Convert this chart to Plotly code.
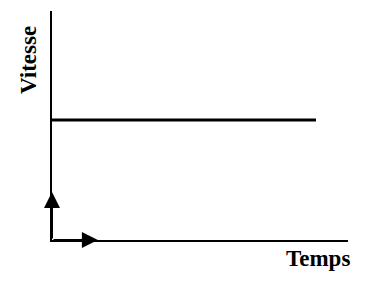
import plotly.graph_objects as go

# Data
temps = [0.0, 8.92]
vitesse = [5.24, 5.24]
arrow_x_tip = [1.55, 0.0]
arrow_y_tip = [0.0, 2.1]
x_label = "Temps"
y_label = "Vitesse"

W, H = 378, 285
ml, mr, mt, mb = 52, 30, 11, 45

fig = go.Figure()
fig.add_trace(go.Scatter(x=temps, y=vitesse, mode="lines",
                         line=dict(color="black", width=3), showlegend=False,
                         hoverinfo="skip"))

for xt, yt in zip(arrow_x_tip, arrow_y_tip):
    fig.add_annotation(x=xt, y=yt, ax=0, ay=0, xref="x", yref="y",
                       axref="x", ayref="y", showarrow=True, arrowhead=2,
                       arrowsize=1.6, arrowwidth=2, arrowcolor="black", text="")

font = dict(family="Liberation Serif", size=23, color="black")
fig.add_annotation(text="<b>" + y_label + "</b>", xref="paper", yref="paper",
                   x=(29 - ml) / (W - ml - mr), y=1 - (60 - mt) / (H - mt - mb),
                   textangle=-90, showarrow=False, font=font,
                   xanchor="center", yanchor="middle")
fig.add_annotation(text="<b>" + x_label + "</b>", xref="paper", yref="paper",
                   x=(318 - ml) / (W - ml - mr), y=-(258 - (H - mb)) / (H - mt - mb),
                   showarrow=False, font=font, xanchor="center", yanchor="middle")

fig.update_xaxes(range=[0, 10], showline=True, linecolor="black", linewidth=2,
                 showgrid=False, zeroline=False, showticklabels=False, ticks="")
fig.update_yaxes(range=[0, 10], showline=True, linecolor="black", linewidth=2,
                 showgrid=False, zeroline=False, showticklabels=False, ticks="")
fig.update_layout(width=W, height=H, margin=dict(l=ml, r=mr, t=mt, b=mb),
                  plot_bgcolor="white", paper_bgcolor="white")
fig.write_html("out.html")
